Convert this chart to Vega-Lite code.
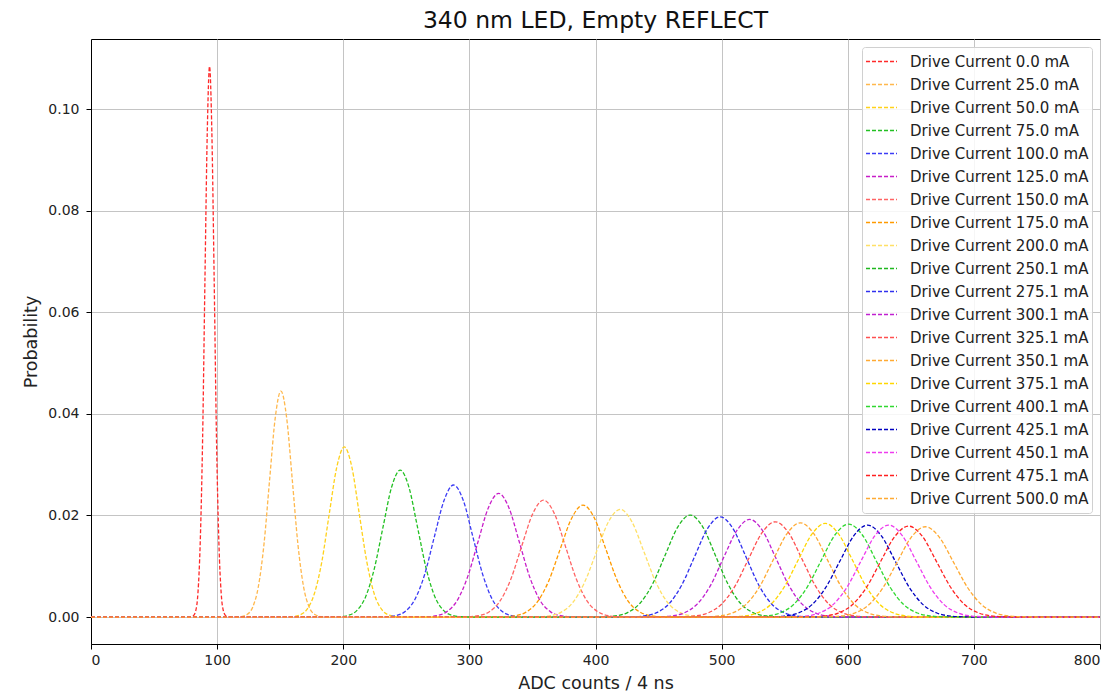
{
"$schema": "https://vega.github.io/schema/vega-lite/v6.json",
"autosize": "none",
"width": 1009,
"height": 605,
"padding": {"left": 91, "top": 39, "right": 16, "bottom": 49},
"background": "white",
"title": {"text": "340 nm LED, Empty REFLECT", "fontSize": 23.5, "fontWeight": "normal", "font": "DejaVu Sans", "color": "#111111", "offset": 7},
"config": {
  "font": "DejaVu Sans",
  "view": {"stroke": "#000000", "strokeWidth": 1},
  "axis": {"domainColor": "#000000", "tickColor": "#000000", "tickSize": 5, "labelFontSize": 14, "labelColor": "#222222", "titleFontSize": 17.5, "titleFontWeight": "normal", "titleColor": "#222222", "gridColor": "#c4c4c4", "gridWidth": 1, "labelPadding": 4, "labelFont": "DejaVu Sans", "titleFont": "DejaVu Sans"}
},
"data": {"values": [
{"s":"0.0","x":0,"y":0},{"s":"0.0","x":79.3,"y":0.00003},{"s":"0.0","x":81.1,"y":0.00024},{"s":"0.0","x":83.0,"y":0.0012},{"s":"0.0","x":84.8,"y":0.00476},{"s":"0.0","x":86.6,"y":0.01467},{"s":"0.0","x":88.5,"y":0.0352},{"s":"0.0","x":90.3,"y":0.06574},{"s":"0.0","x":92.2,"y":0.09566},{"s":"0.0","x":94.0,"y":0.1084},{"s":"0.0","x":95.8,"y":0.09566},{"s":"0.0","x":97.7,"y":0.06574},{"s":"0.0","x":99.5,"y":0.0352},{"s":"0.0","x":101.4,"y":0.01467},{"s":"0.0","x":103.2,"y":0.00476},{"s":"0.0","x":105.0,"y":0.0012},{"s":"0.0","x":106.9,"y":0.00024},{"s":"0.0","x":108.7,"y":0.00003},{"s":"0.0","x":800,"y":0},
{"s":"25.0","x":0,"y":0},{"s":"25.0","x":114.8,"y":0.00001},{"s":"25.0","x":119.2,"y":0.0001},{"s":"25.0","x":123.7,"y":0.00049},{"s":"25.0","x":128.2,"y":0.00195},{"s":"25.0","x":132.7,"y":0.00602},{"s":"25.0","x":137.2,"y":0.01445},{"s":"25.0","x":141.6,"y":0.02699},{"s":"25.0","x":146.1,"y":0.03927},{"s":"25.0","x":150.6,"y":0.0445},{"s":"25.0","x":155.1,"y":0.03927},{"s":"25.0","x":159.6,"y":0.02699},{"s":"25.0","x":164.0,"y":0.01445},{"s":"25.0","x":168.5,"y":0.00602},{"s":"25.0","x":173.0,"y":0.00195},{"s":"25.0","x":177.5,"y":0.00049},{"s":"25.0","x":182.0,"y":0.0001},{"s":"25.0","x":186.4,"y":0.00001},{"s":"25.0","x":800,"y":0},
{"s":"50.0","x":0,"y":0},{"s":"50.0","x":153.2,"y":0.00001},{"s":"50.0","x":159.2,"y":0.00007},{"s":"50.0","x":165.1,"y":0.00037},{"s":"50.0","x":171.1,"y":0.00147},{"s":"50.0","x":177.0,"y":0.00453},{"s":"50.0","x":183.0,"y":0.01088},{"s":"50.0","x":188.9,"y":0.02032},{"s":"50.0","x":194.9,"y":0.02956},{"s":"50.0","x":200.8,"y":0.0335},{"s":"50.0","x":206.8,"y":0.02956},{"s":"50.0","x":212.7,"y":0.02032},{"s":"50.0","x":218.7,"y":0.01088},{"s":"50.0","x":224.6,"y":0.00453},{"s":"50.0","x":230.6,"y":0.00147},{"s":"50.0","x":236.5,"y":0.00037},{"s":"50.0","x":242.5,"y":0.00007},{"s":"50.0","x":248.4,"y":0.00001},{"s":"50.0","x":800,"y":0},
{"s":"75.0","x":0,"y":0},{"s":"75.0","x":190.0,"y":0.00001},{"s":"75.0","x":196.9,"y":0.00006},{"s":"75.0","x":203.8,"y":0.00032},{"s":"75.0","x":210.7,"y":0.00127},{"s":"75.0","x":217.6,"y":0.00392},{"s":"75.0","x":224.5,"y":0.0094},{"s":"75.0","x":231.4,"y":0.01755},{"s":"75.0","x":238.3,"y":0.02554},{"s":"75.0","x":245.2,"y":0.02894},{"s":"75.0","x":252.1,"y":0.02554},{"s":"75.0","x":259.0,"y":0.01755},{"s":"75.0","x":265.9,"y":0.0094},{"s":"75.0","x":272.8,"y":0.00392},{"s":"75.0","x":279.7,"y":0.00127},{"s":"75.0","x":286.6,"y":0.00032},{"s":"75.0","x":293.5,"y":0.00006},{"s":"75.0","x":300.4,"y":0.00001},{"s":"75.0","x":800,"y":0},
{"s":"100.0","x":0,"y":0},{"s":"100.0","x":226.3,"y":0.00001},{"s":"100.0","x":234.0,"y":0.00006},{"s":"100.0","x":241.6,"y":0.00029},{"s":"100.0","x":249.3,"y":0.00114},{"s":"100.0","x":256.9,"y":0.00352},{"s":"100.0","x":264.6,"y":0.00844},{"s":"100.0","x":272.2,"y":0.01577},{"s":"100.0","x":279.9,"y":0.02295},{"s":"100.0","x":287.5,"y":0.026},{"s":"100.0","x":295.2,"y":0.02295},{"s":"100.0","x":302.8,"y":0.01577},{"s":"100.0","x":310.5,"y":0.00844},{"s":"100.0","x":318.1,"y":0.00352},{"s":"100.0","x":325.8,"y":0.00114},{"s":"100.0","x":333.4,"y":0.00029},{"s":"100.0","x":341.1,"y":0.00006},{"s":"100.0","x":348.7,"y":0.00001},{"s":"100.0","x":800,"y":0},
{"s":"125.0","x":0,"y":0},{"s":"125.0","x":257.6,"y":0.00001},{"s":"125.0","x":265.8,"y":0.00005},{"s":"125.0","x":274.0,"y":0.00027},{"s":"125.0","x":282.2,"y":0.00107},{"s":"125.0","x":290.4,"y":0.00329},{"s":"125.0","x":298.6,"y":0.00791},{"s":"125.0","x":306.8,"y":0.01477},{"s":"125.0","x":315.0,"y":0.02149},{"s":"125.0","x":323.2,"y":0.02435},{"s":"125.0","x":331.4,"y":0.02149},{"s":"125.0","x":339.6,"y":0.01477},{"s":"125.0","x":347.8,"y":0.00791},{"s":"125.0","x":356.0,"y":0.00329},{"s":"125.0","x":364.2,"y":0.00107},{"s":"125.0","x":372.4,"y":0.00027},{"s":"125.0","x":380.6,"y":0.00005},{"s":"125.0","x":388.8,"y":0.00001},{"s":"125.0","x":800,"y":0},
{"s":"150.0","x":0,"y":0},{"s":"150.0","x":289.6,"y":0.00001},{"s":"150.0","x":298.3,"y":0.00005},{"s":"150.0","x":306.9,"y":0.00026},{"s":"150.0","x":315.6,"y":0.00101},{"s":"150.0","x":324.2,"y":0.00312},{"s":"150.0","x":332.9,"y":0.00748},{"s":"150.0","x":341.5,"y":0.01397},{"s":"150.0","x":350.2,"y":0.02032},{"s":"150.0","x":358.8,"y":0.02303},{"s":"150.0","x":367.5,"y":0.02032},{"s":"150.0","x":376.1,"y":0.01397},{"s":"150.0","x":384.8,"y":0.00748},{"s":"150.0","x":393.4,"y":0.00312},{"s":"150.0","x":402.1,"y":0.00101},{"s":"150.0","x":410.7,"y":0.00026},{"s":"150.0","x":419.4,"y":0.00005},{"s":"150.0","x":428.0,"y":0.00001},{"s":"150.0","x":800,"y":0},
{"s":"175.0","x":0,"y":0},{"s":"175.0","x":317.7,"y":0.00001},{"s":"175.0","x":326.8,"y":0.00005},{"s":"175.0","x":335.8,"y":0.00024},{"s":"175.0","x":344.9,"y":0.00097},{"s":"175.0","x":353.9,"y":0.00298},{"s":"175.0","x":363.0,"y":0.00716},{"s":"175.0","x":372.0,"y":0.01337},{"s":"175.0","x":381.1,"y":0.01946},{"s":"175.0","x":390.1,"y":0.02205},{"s":"175.0","x":399.2,"y":0.01946},{"s":"175.0","x":408.2,"y":0.01337},{"s":"175.0","x":417.3,"y":0.00716},{"s":"175.0","x":426.3,"y":0.00298},{"s":"175.0","x":435.4,"y":0.00097},{"s":"175.0","x":444.4,"y":0.00024},{"s":"175.0","x":453.5,"y":0.00005},{"s":"175.0","x":462.5,"y":0.00001},{"s":"175.0","x":800,"y":0},
{"s":"200.0","x":0,"y":0},{"s":"200.0","x":344.4,"y":0.00001},{"s":"200.0","x":353.8,"y":0.00005},{"s":"200.0","x":363.2,"y":0.00024},{"s":"200.0","x":372.6,"y":0.00093},{"s":"200.0","x":382.0,"y":0.00287},{"s":"200.0","x":391.4,"y":0.00688},{"s":"200.0","x":400.8,"y":0.01286},{"s":"200.0","x":410.2,"y":0.01871},{"s":"200.0","x":419.6,"y":0.0212},{"s":"200.0","x":429.0,"y":0.01871},{"s":"200.0","x":438.4,"y":0.01286},{"s":"200.0","x":447.8,"y":0.00688},{"s":"200.0","x":457.2,"y":0.00287},{"s":"200.0","x":466.6,"y":0.00093},{"s":"200.0","x":476.0,"y":0.00024},{"s":"200.0","x":485.4,"y":0.00005},{"s":"200.0","x":494.8,"y":0.00001},{"s":"200.0","x":800,"y":0},
{"s":"250.1","x":0,"y":0},{"s":"250.1","x":395.5,"y":0.00001},{"s":"250.1","x":405.5,"y":0.00004},{"s":"250.1","x":415.4,"y":0.00022},{"s":"250.1","x":425.4,"y":0.00088},{"s":"250.1","x":435.3,"y":0.00272},{"s":"250.1","x":445.3,"y":0.00652},{"s":"250.1","x":455.2,"y":0.01218},{"s":"250.1","x":465.2,"y":0.01772},{"s":"250.1","x":475.1,"y":0.02008},{"s":"250.1","x":485.1,"y":0.01772},{"s":"250.1","x":495.0,"y":0.01218},{"s":"250.1","x":505.0,"y":0.00652},{"s":"250.1","x":514.9,"y":0.00272},{"s":"250.1","x":524.9,"y":0.00088},{"s":"250.1","x":534.8,"y":0.00022},{"s":"250.1","x":544.8,"y":0.00004},{"s":"250.1","x":554.7,"y":0.00001},{"s":"250.1","x":800,"y":0},
{"s":"275.1","x":0,"y":0},{"s":"275.1","x":418.1,"y":0.00001},{"s":"275.1","x":428.2,"y":0.00004},{"s":"275.1","x":438.3,"y":0.00022},{"s":"275.1","x":448.4,"y":0.00087},{"s":"275.1","x":458.5,"y":0.00267},{"s":"275.1","x":468.6,"y":0.00641},{"s":"275.1","x":478.7,"y":0.01197},{"s":"275.1","x":488.8,"y":0.01742},{"s":"275.1","x":498.9,"y":0.01974},{"s":"275.1","x":509.0,"y":0.01742},{"s":"275.1","x":519.1,"y":0.01197},{"s":"275.1","x":529.2,"y":0.00641},{"s":"275.1","x":539.3,"y":0.00267},{"s":"275.1","x":549.4,"y":0.00087},{"s":"275.1","x":559.5,"y":0.00022},{"s":"275.1","x":569.6,"y":0.00004},{"s":"275.1","x":579.7,"y":0.00001},{"s":"275.1","x":800,"y":0},
{"s":"300.1","x":0,"y":0},{"s":"300.1","x":439.4,"y":0.00001},{"s":"300.1","x":449.8,"y":0.00004},{"s":"300.1","x":460.1,"y":0.00021},{"s":"300.1","x":470.5,"y":0.00084},{"s":"300.1","x":480.8,"y":0.0026},{"s":"300.1","x":491.2,"y":0.00624},{"s":"300.1","x":501.5,"y":0.01166},{"s":"300.1","x":511.9,"y":0.01697},{"s":"300.1","x":522.2,"y":0.01923},{"s":"300.1","x":532.6,"y":0.01697},{"s":"300.1","x":542.9,"y":0.01166},{"s":"300.1","x":553.3,"y":0.00624},{"s":"300.1","x":563.6,"y":0.0026},{"s":"300.1","x":574.0,"y":0.00084},{"s":"300.1","x":584.3,"y":0.00021},{"s":"300.1","x":594.7,"y":0.00004},{"s":"300.1","x":605.0,"y":0.00001},{"s":"300.1","x":800,"y":0},
{"s":"325.1","x":0,"y":0},{"s":"325.1","x":457.3,"y":0.00001},{"s":"325.1","x":468.0,"y":0.00004},{"s":"325.1","x":478.6,"y":0.00021},{"s":"325.1","x":489.3,"y":0.00082},{"s":"325.1","x":499.9,"y":0.00254},{"s":"325.1","x":510.6,"y":0.00609},{"s":"325.1","x":521.2,"y":0.01138},{"s":"325.1","x":531.9,"y":0.01656},{"s":"325.1","x":542.5,"y":0.01876},{"s":"325.1","x":553.2,"y":0.01656},{"s":"325.1","x":563.8,"y":0.01138},{"s":"325.1","x":574.5,"y":0.00609},{"s":"325.1","x":585.1,"y":0.00254},{"s":"325.1","x":595.8,"y":0.00082},{"s":"325.1","x":606.4,"y":0.00021},{"s":"325.1","x":617.1,"y":0.00004},{"s":"325.1","x":627.7,"y":0.00001},{"s":"325.1","x":800,"y":0},
{"s":"350.1","x":0,"y":0},{"s":"350.1","x":476.4,"y":0.00001},{"s":"350.1","x":487.2,"y":0.00004},{"s":"350.1","x":497.9,"y":0.00021},{"s":"350.1","x":508.7,"y":0.00081},{"s":"350.1","x":519.4,"y":0.00251},{"s":"350.1","x":530.2,"y":0.00603},{"s":"350.1","x":540.9,"y":0.01126},{"s":"350.1","x":551.7,"y":0.01638},{"s":"350.1","x":562.4,"y":0.01856},{"s":"350.1","x":573.2,"y":0.01638},{"s":"350.1","x":583.9,"y":0.01126},{"s":"350.1","x":594.7,"y":0.00603},{"s":"350.1","x":605.4,"y":0.00251},{"s":"350.1","x":616.2,"y":0.00081},{"s":"350.1","x":626.9,"y":0.00021},{"s":"350.1","x":637.7,"y":0.00004},{"s":"350.1","x":648.4,"y":0.00001},{"s":"350.1","x":800,"y":0},
{"s":"375.1","x":0,"y":0},{"s":"375.1","x":495.8,"y":0.00001},{"s":"375.1","x":506.6,"y":0.00004},{"s":"375.1","x":517.4,"y":0.0002},{"s":"375.1","x":528.2,"y":0.00081},{"s":"375.1","x":539.0,"y":0.00249},{"s":"375.1","x":549.8,"y":0.00599},{"s":"375.1","x":560.6,"y":0.01118},{"s":"375.1","x":571.4,"y":0.01627},{"s":"375.1","x":582.2,"y":0.01844},{"s":"375.1","x":593.0,"y":0.01627},{"s":"375.1","x":603.8,"y":0.01118},{"s":"375.1","x":614.6,"y":0.00599},{"s":"375.1","x":625.4,"y":0.00249},{"s":"375.1","x":636.2,"y":0.00081},{"s":"375.1","x":647.0,"y":0.0002},{"s":"375.1","x":657.8,"y":0.00004},{"s":"375.1","x":668.6,"y":0.00001},{"s":"375.1","x":800,"y":0},
{"s":"400.1","x":0,"y":0},{"s":"400.1","x":513.5,"y":0.00001},{"s":"400.1","x":524.4,"y":0.00004},{"s":"400.1","x":535.3,"y":0.0002},{"s":"400.1","x":546.2,"y":0.0008},{"s":"400.1","x":557.1,"y":0.00248},{"s":"400.1","x":568.0,"y":0.00595},{"s":"400.1","x":578.9,"y":0.01111},{"s":"400.1","x":589.8,"y":0.01616},{"s":"400.1","x":600.7,"y":0.01831},{"s":"400.1","x":611.6,"y":0.01616},{"s":"400.1","x":622.5,"y":0.01111},{"s":"400.1","x":633.4,"y":0.00595},{"s":"400.1","x":644.3,"y":0.00248},{"s":"400.1","x":655.2,"y":0.0008},{"s":"400.1","x":666.1,"y":0.0002},{"s":"400.1","x":677.0,"y":0.00004},{"s":"400.1","x":687.9,"y":0.00001},{"s":"400.1","x":800,"y":0},
{"s":"425.1","x":0,"y":0},{"s":"425.1","x":527.7,"y":0.00001},{"s":"425.1","x":538.7,"y":0.00004},{"s":"425.1","x":549.7,"y":0.0002},{"s":"425.1","x":560.7,"y":0.0008},{"s":"425.1","x":571.7,"y":0.00245},{"s":"425.1","x":582.7,"y":0.00588},{"s":"425.1","x":593.7,"y":0.01098},{"s":"425.1","x":604.7,"y":0.01598},{"s":"425.1","x":615.7,"y":0.01811},{"s":"425.1","x":626.7,"y":0.01598},{"s":"425.1","x":637.7,"y":0.01098},{"s":"425.1","x":648.7,"y":0.00588},{"s":"425.1","x":659.7,"y":0.00245},{"s":"425.1","x":670.7,"y":0.0008},{"s":"425.1","x":681.7,"y":0.0002},{"s":"425.1","x":692.7,"y":0.00004},{"s":"425.1","x":703.7,"y":0.00001},{"s":"425.1","x":800,"y":0},
{"s":"450.1","x":0,"y":0},{"s":"450.1","x":544.4,"y":0.00001},{"s":"450.1","x":555.4,"y":0.00004},{"s":"450.1","x":566.4,"y":0.0002},{"s":"450.1","x":577.4,"y":0.0008},{"s":"450.1","x":588.4,"y":0.00245},{"s":"450.1","x":599.4,"y":0.00588},{"s":"450.1","x":610.4,"y":0.01098},{"s":"450.1","x":621.4,"y":0.01598},{"s":"450.1","x":632.4,"y":0.01811},{"s":"450.1","x":643.4,"y":0.01598},{"s":"450.1","x":654.4,"y":0.01098},{"s":"450.1","x":665.4,"y":0.00588},{"s":"450.1","x":676.4,"y":0.00245},{"s":"450.1","x":687.4,"y":0.0008},{"s":"450.1","x":698.4,"y":0.0002},{"s":"450.1","x":709.4,"y":0.00004},{"s":"450.1","x":720.4,"y":0.00001},{"s":"450.1","x":800,"y":0},
{"s":"475.1","x":0,"y":0},{"s":"475.1","x":559.0,"y":0.00001},{"s":"475.1","x":570.2,"y":0.00004},{"s":"475.1","x":581.3,"y":0.0002},{"s":"475.1","x":592.5,"y":0.00079},{"s":"475.1","x":603.6,"y":0.00242},{"s":"475.1","x":614.8,"y":0.00582},{"s":"475.1","x":625.9,"y":0.01086},{"s":"475.1","x":637.1,"y":0.01581},{"s":"475.1","x":648.2,"y":0.01791},{"s":"475.1","x":659.4,"y":0.01581},{"s":"475.1","x":670.5,"y":0.01086},{"s":"475.1","x":681.7,"y":0.00582},{"s":"475.1","x":692.8,"y":0.00242},{"s":"475.1","x":704.0,"y":0.00079},{"s":"475.1","x":715.1,"y":0.0002},{"s":"475.1","x":726.3,"y":0.00004},{"s":"475.1","x":737.4,"y":0.00001},{"s":"475.1","x":800,"y":0},
{"s":"500.0","x":0,"y":0},{"s":"500.0","x":571.9,"y":0.00001},{"s":"500.0","x":583.1,"y":0.00004},{"s":"500.0","x":594.3,"y":0.0002},{"s":"500.0","x":605.5,"y":0.00078},{"s":"500.0","x":616.7,"y":0.00241},{"s":"500.0","x":627.9,"y":0.00577},{"s":"500.0","x":639.1,"y":0.01078},{"s":"500.0","x":650.3,"y":0.01569},{"s":"500.0","x":661.5,"y":0.01778},{"s":"500.0","x":672.7,"y":0.01569},{"s":"500.0","x":683.9,"y":0.01078},{"s":"500.0","x":695.1,"y":0.00577},{"s":"500.0","x":706.3,"y":0.00241},{"s":"500.0","x":717.5,"y":0.00078},{"s":"500.0","x":728.7,"y":0.0002},{"s":"500.0","x":739.9,"y":0.00004},{"s":"500.0","x":751.1,"y":0.00001},{"s":"500.0","x":800,"y":0}
]},
"mark": {"type": "line", "strokeDash": [4, 2], "strokeWidth": 1.3, "interpolate": "monotone"},
"encoding": {
  "x": {"field": "x", "type": "quantitative", "scale": {"domain": [0, 800], "nice": false}, "axis": {"title": "ADC counts / 4 ns", "values": [0, 100, 200, 300, 400, 500, 600, 700, 800], "format": "d", "titlePadding": 7}},
  "y": {"field": "y", "type": "quantitative", "scale": {"domain": [-0.0053, 0.1138], "nice": false, "zero": false}, "axis": {"title": "Probability", "values": [0, 0.02, 0.04, 0.06, 0.08, 0.1], "format": ".2f", "labelPadding": 7, "titlePadding": 7}},
  "color": {"field": "s", "type": "nominal",
    "scale": {"domain": ["0.0","25.0","50.0","75.0","100.0","125.0","150.0","175.0","200.0","250.1","275.1","300.1","325.1","350.1","375.1","400.1","425.1","450.1","475.1","500.0"],
              "range": ["#ff2a2a","#ffb84d","#ffd11a","#22c022","#3c3cf5","#c81ec8","#ff6464","#ff9a00","#ffe066","#1fb81f","#3030ee","#c020d0","#ff5050","#ffaa33","#ffd700","#30d830","#0000c0","#ee3cee","#ff2020","#ffaa33"]},
    "legend": {"title": null, "orient": "top-right", "offset": 8, "labelExpr": "'Drive Current ' + datum.label + ' mA'", "symbolType": "stroke", "symbolDash": [4, 2], "symbolStrokeWidth": 1.5, "symbolSize": 961, "clipHeight": 23, "labelFontSize": 15, "labelColor": "#222222", "labelFont": "DejaVu Sans", "labelLimit": 300, "labelOffset": 12, "rowPadding": 0, "padding": 3, "fillColor": "rgba(255,255,255,0.85)", "strokeColor": "#d0d0d0", "cornerRadius": 3}
  }
}
}
